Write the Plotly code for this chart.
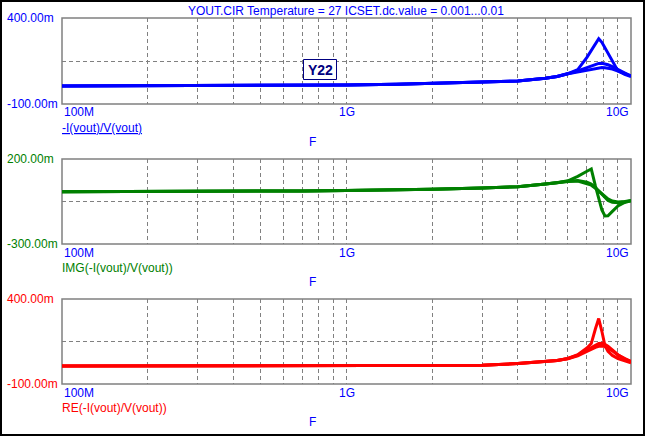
import numpy as np
import plotly.graph_objects as go

W, H = 645, 436

# ---------------- data ----------------
freq_ghz = [0.1, 0.2, 0.3, 0.5, 0.7, 1.0, 1.5, 2.0, 3.0, 4.0, 5.0, 5.5, 6.0,
            6.5, 7.0, 7.25, 7.5, 7.7, 7.9, 8.1, 8.3, 8.6, 9.0, 9.5, 10.0]

# |Y22|  (milli-units)
mag_c1 = [4, 5, 5, 6, 8, 11, 15, 20, 27, 34, 50, 60, 77,
          100, 171, 212, 255, 280, 259, 227, 193, 146, 92, 72, 59]
mag_c2 = [4, 5, 5, 6, 8, 11, 15, 20, 27, 34, 50, 60, 76,
          92, 112, 122, 131, 136, 137, 134, 128, 117, 100, 80, 62]
mag_c3 = [4, 5, 5, 6, 8, 11, 15, 20, 27, 34, 50, 60, 75,
          86, 98, 104, 109, 111, 112, 111, 108, 103, 92, 78, 64]

# IMG(Y22)
img_c1 = [8, 8, 9, 11, 12, 14, 18, 22, 30, 37, 53, 60, 72,
          98, 128, 141, 40, -32, -100, -135, -134, -108, -76, -56, -45]
img_c2 = [8, 8, 9, 11, 12, 14, 18, 22, 30, 37, 53, 60, 70,
          74, 63, 52, 32, 12, -10, -30, -44, -55, -58, -52, -45]
img_c3 = [8, 8, 9, 11, 12, 14, 18, 22, 30, 37, 53, 60, 69,
          70, 56, 46, 28, 12, -5, -22, -35, -47, -53, -50, -46]

# RE(Y22)
re_c1 = [6, 6, 6, 6, 6, 6, 7, 8, 10, 20, 30, 38, 50,
         72, 112, 138, 225, 285, 210, 125, 92, 68, 50, 35, 24]
re_c2 = [6, 6, 6, 6, 6, 6, 7, 8, 10, 20, 30, 38, 50,
         70, 100, 115, 130, 138, 139, 133, 122, 100, 72, 48, 33]
re_c3 = [6, 6, 6, 6, 6, 6, 7, 8, 10, 20, 30, 38, 49,
         66, 92, 105, 116, 122, 124, 120, 111, 95, 70, 48, 31]

x_tick_vals = [1e8, 1e9, 1e10]
x_tick_text = ["100M", "1G", "10G"]
grid_vals = [k * 1e8 for k in range(2, 10)] + [1e9] + [k * 1e9 for k in range(2, 10)]

title_text = "YOUT.CIR Temperature = 27 ICSET.dc.value = 0.001...0.01"
x_title = "F"
marker_label = "Y22"

panels = [
    dict(top=18, bottom=104, yr=(-100, 400), ylabels=("400.00m", "-100.00m"),
         color="#0000FF", name="<u>-I(vout)/V(vout)</u>", series=[mag_c1, mag_c2, mag_c3]),
    dict(top=159, bottom=244, yr=(-300, 200), ylabels=("200.00m", "-300.00m"),
         color="#008000", name="IMG(-I(vout)/V(vout))", series=[img_c1, img_c2, img_c3]),
    dict(top=299, bottom=384, yr=(-100, 400), ylabels=("400.00m", "-100.00m"),
         color="#FF0000", name="RE(-I(vout)/V(vout))", series=[re_c1, re_c2, re_c3]),
]

# ---------------- figure ----------------
PL, PR = 62, 631
FONT = "Liberation Sans, Arial, sans-serif"
BLUE = "#0000FF"
GRID = "#808080"

def fx(px):
    return px / W

def fy(py):
    return 1 - py / H

freq = [f * 1e9 for f in freq_ghz]

fig = go.Figure()
annotations = []
shapes = []
layout = {}

for i, p in enumerate(panels, start=1):
    xa = "x" if i == 1 else f"x{i}"
    ya = "y" if i == 1 else f"y{i}"
    xkey = "xaxis" if i == 1 else f"xaxis{i}"
    ykey = "yaxis" if i == 1 else f"yaxis{i}"
    for s in p["series"]:
        fig.add_trace(go.Scatter(x=freq, y=s, mode="lines", xaxis=xa, yaxis=ya,
                                 line=dict(color=p["color"], width=3),
                                 showlegend=False, hoverinfo="skip"))
    ymin, ymax = p["yr"]
    layout[xkey] = dict(type="log", range=[8, 10], domain=[fx(PL), fx(PR)],
                        anchor=ya, tickvals=grid_vals, showticklabels=False,
                        ticks="", showgrid=True, gridcolor=GRID, gridwidth=1,
                        griddash="4px,3px", zeroline=False, showline=False, fixedrange=True)
    layout[ykey] = dict(range=[ymin, ymax], domain=[fy(p["bottom"]), fy(p["top"])],
                        anchor=xa, tickvals=[(ymin + ymax) / 2], showticklabels=False,
                        ticks="", showgrid=True, gridcolor=GRID, gridwidth=1,
                        griddash="4px,3px", zeroline=False, showline=False, fixedrange=True)
    # panel frame
    shapes.append(dict(type="rect", xref=f"{xa} domain", yref=f"{ya} domain",
                       x0=0, x1=1, y0=0, y1=1, line=dict(color=GRID, width=1.5),
                       layer="below"))
    # y labels
    annotations.append(dict(text=p["ylabels"][0], x=fx(5), xref="paper", xanchor="left",
                            y=ymax, yref=ya, yanchor="middle", showarrow=False,
                            font=dict(family=FONT, size=12, color=p["color"])))
    annotations.append(dict(text=p["ylabels"][1], x=fx(5), xref="paper", xanchor="left",
                            y=ymin, yref=ya, yanchor="middle", showarrow=False,
                            font=dict(family=FONT, size=12, color=p["color"])))
    # x tick labels
    anchors = ["left", "center", "right"]
    for v, t, a in zip(x_tick_vals, x_tick_text, anchors):
        annotations.append(dict(text=t, x=np.log10(v), xref=xa, xanchor=a,
                                y=fy(p["bottom"] + 8.5), yref="paper", yanchor="middle",
                                showarrow=False,
                                font=dict(family=FONT, size=12, color=BLUE)))
    # trace name
    annotations.append(dict(text=p["name"], x=fx(60), xref="paper", xanchor="left",
                            y=fy(p["bottom"] + 23.5), yref="paper", yanchor="middle",
                            showarrow=False,
                            font=dict(family=FONT, size=12, color=p["color"])))
    # x axis title
    annotations.append(dict(text=x_title, x=fx(312), xref="paper", xanchor="center",
                            y=fy(p["bottom"] + 37.5), yref="paper", yanchor="middle",
                            showarrow=False,
                            font=dict(family=FONT, size=12, color=BLUE)))

# title
annotations.append(dict(text=title_text, x=fx(345.5), xref="paper", xanchor="center",
                        y=fy(11), yref="paper", yanchor="middle", showarrow=False,
                        font=dict(family=FONT, size=12, color=BLUE)))

# Y22 label box
shapes.append(dict(type="rect", xref="paper", yref="paper",
                   x0=fx(303.5), x1=fx(336.5), y0=fy(79.5), y1=fy(59.5),
                   line=dict(color="#000080", width=1), fillcolor="white", layer="above"))
annotations.append(dict(text=f"<b>{marker_label}</b>", x=fx(320), xref="paper",
                        xanchor="center", y=fy(70), yref="paper", yanchor="middle",
                        showarrow=False,
                        font=dict(family=FONT, size=14, color="#000080")))

# outer frame
shapes.append(dict(type="rect", xref="paper", yref="paper",
                   x0=fx(1), x1=fx(W - 1), y0=fy(H - 1), y1=fy(1),
                   line=dict(color="black", width=2), layer="above"))

fig.update_layout(width=W, height=H, margin=dict(l=0, r=0, t=0, b=0),
                  paper_bgcolor="white", plot_bgcolor="white",
                  annotations=annotations, shapes=shapes, showlegend=False,
                  **layout)

fig.write_html("out.html", config={"displayModeBar": False})
